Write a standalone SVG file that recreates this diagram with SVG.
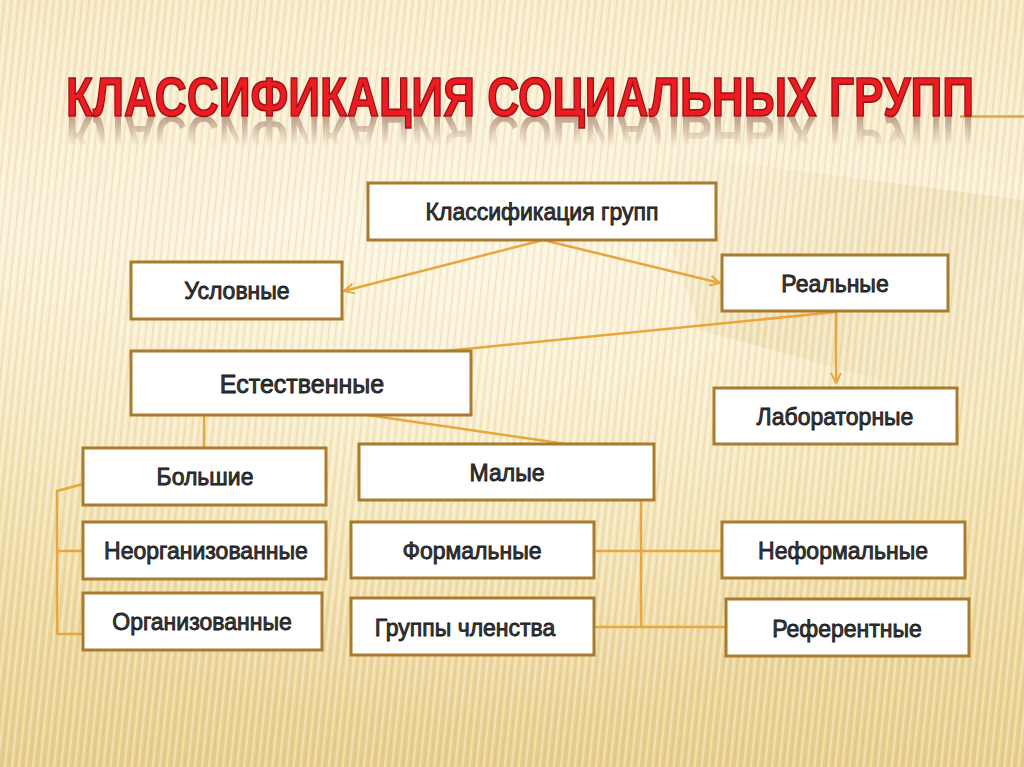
<svg xmlns="http://www.w3.org/2000/svg" width="1024" height="767" viewBox="0 0 1024 767">
<defs>
  <linearGradient id="bg" x1="0" y1="0" x2="0" y2="1">
    <stop offset="0" stop-color="#f6e6bd"/>
    <stop offset="0.3" stop-color="#faf0d6"/>
    <stop offset="0.6" stop-color="#f3e2b0"/>
    <stop offset="1" stop-color="#e8ce8b"/>
  </linearGradient>
  <radialGradient id="glow" cx="0.45" cy="0.35" r="0.6">
    <stop offset="0" stop-color="#fff8e6" stop-opacity="0.7"/>
    <stop offset="1" stop-color="#fff8e6" stop-opacity="0"/>
  </radialGradient>
  <linearGradient id="beam" x1="0" y1="0" x2="1" y2="1">
    <stop offset="0" stop-color="#e6cf95" stop-opacity="0"/>
    <stop offset="0.5" stop-color="#e2c98a" stop-opacity="0.35"/>
    <stop offset="1" stop-color="#e6cf95" stop-opacity="0"/>
  </linearGradient>
  <pattern id="stripes" width="7" height="40" patternUnits="userSpaceOnUse" patternTransform="rotate(6)">
    <rect x="0" y="0" width="2" height="40" fill="#ffffff" opacity="0.35"/>
    <rect x="4" y="0" width="1.2" height="40" fill="#c09a50" opacity="0.2"/>
  </pattern>
  <linearGradient id="reflFade" x1="0" y1="116" x2="0" y2="146" gradientUnits="userSpaceOnUse">
    <stop offset="0" stop-color="#fff" stop-opacity="0.75"/>
    <stop offset="1" stop-color="#fff" stop-opacity="0"/>
  </linearGradient>
  <mask id="reflMask" maskUnits="userSpaceOnUse" x="0" y="0" width="1024" height="767">
    <rect x="0" y="117" width="1024" height="32" fill="url(#reflFade)"/>
  </mask>
  <marker id="arr" viewBox="0 0 12 12" refX="11" refY="6" markerWidth="12" markerHeight="12" markerUnits="userSpaceOnUse" orient="auto">
    <path d="M1,1 L11,6 L1,11" fill="none" stroke="#e9a63c" stroke-width="2"/>
  </marker>
  <style>
    .box { fill: #ffffff; stroke: #a97b2c; stroke-width: 3; }
    .lbl { font-family: "Liberation Sans", Arial, sans-serif; font-size: 23px; fill: #3b3b3b; stroke: #151515; stroke-width: 0.8; text-anchor: middle; }
    .con { fill: none; stroke: #e9a63c; stroke-width: 2.5; }
    .title { font-family: "Liberation Sans Narrow", "Liberation Sans", Arial, sans-serif; font-weight: bold; font-size: 56px; }
  </style>
</defs>

<rect width="1024" height="767" fill="url(#bg)"/>
<rect width="1024" height="767" fill="url(#glow)"/>
<polygon points="640,150 1024,200 1024,420 700,330" fill="url(#beam)"/>
<rect width="1024" height="767" fill="url(#stripes)"/>

<g id="title">
  <line x1="960" y1="116.5" x2="1024" y2="116.5" stroke="#dba64a" stroke-width="2.5"/>
  <g mask="url(#reflMask)">
    <text class="title" transform="translate(0,232) scale(1,-1)" x="66" y="116" textLength="908" lengthAdjust="spacingAndGlyphs" fill="#a98470">КЛАССИФИКАЦИЯ СОЦИАЛЬНЫХ ГРУПП</text>
  </g>
  <text class="title" x="66" y="116" textLength="908" lengthAdjust="spacingAndGlyphs" fill="#ec1c22" stroke="#9e0f12" stroke-width="1.6">КЛАССИФИКАЦИЯ СОЦИАЛЬНЫХ ГРУПП</text>
</g>

<g id="connectors">
  <line class="con" x1="543" y1="240" x2="344" y2="291" marker-end="url(#arr)"/>
  <line class="con" x1="543" y1="240" x2="720" y2="283" marker-end="url(#arr)"/>
  <line class="con" x1="836" y1="311" x2="836" y2="383" marker-end="url(#arr)"/>
  <line class="con" x1="836" y1="312" x2="445" y2="351"/>
  <line class="con" x1="204" y1="415" x2="204" y2="448"/>
  <line class="con" x1="367" y1="415" x2="566" y2="444"/>
  <polyline class="con" points="83,484 57,491 57,634 83,634"/>
  <line class="con" x1="57" y1="551" x2="83" y2="551"/>
  <line class="con" x1="641" y1="501" x2="641" y2="627"/>
  <line class="con" x1="594" y1="551" x2="722" y2="551"/>
  <line class="con" x1="594" y1="627" x2="726" y2="627"/>
</g>

<g id="n-klass"><rect class="box" x="368" y="183" width="348" height="57"/><text class="lbl" x="542" y="220">Классификация групп</text></g>
<g id="n-uslov"><rect class="box" x="131" y="262" width="211" height="57"/><text class="lbl" x="237" y="299">Условные</text></g>
<g id="n-real"><rect class="box" x="722" y="255" width="226" height="56"/><text class="lbl" x="835" y="292">Реальные</text></g>
<g id="n-estest"><rect class="box" x="131" y="351" width="340" height="64"/><text class="lbl" x="302" y="393" style="font-size:25px">Естественные</text></g>
<g id="n-labor"><rect class="box" x="714" y="388" width="243" height="56"/><text class="lbl" x="835" y="425">Лабораторные</text></g>
<g id="n-bolsh"><rect class="box" x="83" y="448" width="243" height="57"/><text class="lbl" x="205" y="485">Большие</text></g>
<g id="n-malye"><rect class="box" x="359" y="444" width="295" height="56"/><text class="lbl" x="507" y="481">Малые</text></g>
<g id="n-neorg"><rect class="box" x="83" y="522" width="243" height="57"/><text class="lbl" x="206" y="559">Неорганизованные</text></g>
<g id="n-org"><rect class="box" x="83" y="593" width="239" height="57"/><text class="lbl" x="202" y="630">Организованные</text></g>
<g id="n-form"><rect class="box" x="351" y="522" width="243" height="56"/><text class="lbl" x="472" y="559">Формальные</text></g>
<g id="n-gchl"><rect class="box" x="351" y="598" width="243" height="57"/><text class="lbl" x="465" y="636">Группы членства</text></g>
<g id="n-neform"><rect class="box" x="722" y="522" width="243" height="56"/><text class="lbl" x="843" y="559">Неформальные</text></g>
<g id="n-ref"><rect class="box" x="726" y="599" width="243" height="57"/><text class="lbl" x="847" y="637">Референтные</text></g>
</svg>
